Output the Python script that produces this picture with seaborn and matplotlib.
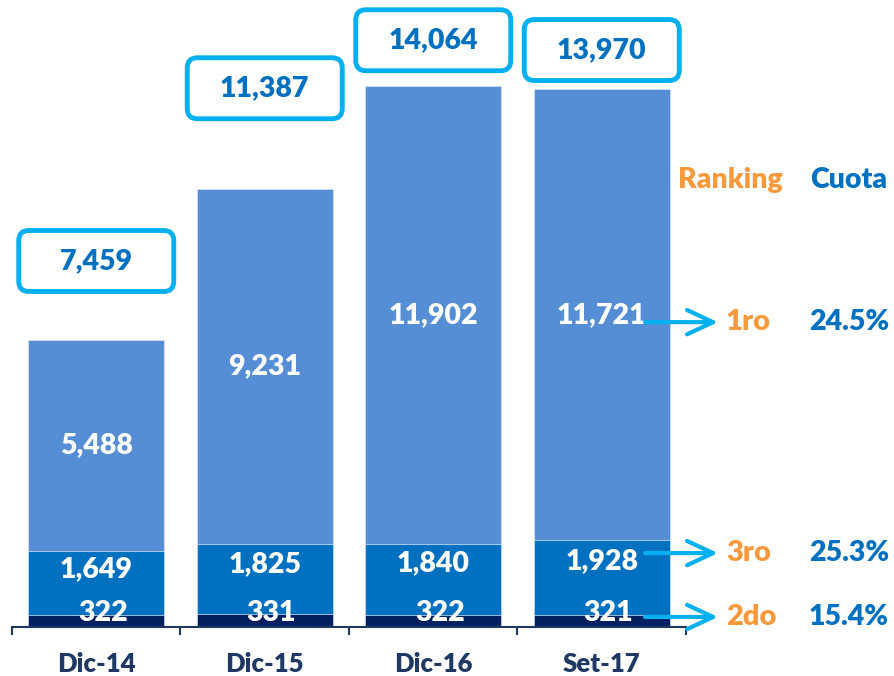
import matplotlib.pyplot as plt
import matplotlib.patches as mpatches
import seaborn as sns
import pandas as pd

periods = ['Dic-14', 'Dic-15', 'Dic-16', 'Set-17']
seg_bottom = [322, 331, 322, 321]
seg_middle = [1649, 1825, 1840, 1928]
seg_top = [5488, 9231, 11902, 11721]
totals = [7459, 11387, 14064, 13970]
ranking = ['1ro', '3ro', '2do']
cuota = ['24.5%', '25.3%', '15.4%']

# how far above each bar the total box sits (data units)
box_lift = [2050, 2610, 1180, 1020]
# heights of the three arrows on the right
arrow_y = [7920, 1920, 260]

LIGHT = '#558ED5'
MID = '#0070C0'
NAVY = '#002060'
CYAN = '#00B0F0'
ORANGE = '#F79A3E'
AXIS = '#1F3864'
W = 'heavy'

sns.set_theme(style='white')
plt.rcParams['font.family'] = ['Lato', 'DejaVu Sans']
plt.rcParams['font.weight'] = 'bold'

df = pd.DataFrame({'periodo': periods, 'bottom': seg_bottom,
                   'middle': seg_middle, 'top': seg_top})
df['cum_mid'] = df['bottom'] + df['middle']
df['cum_top'] = df['cum_mid'] + df['top']

fig = plt.figure(figsize=(8.95, 6.76), dpi=100)
ax = fig.add_axes([12 / 895, 49 / 676, 674 / 895, 627 / 676])

# stacked look: draw cumulative bars from tallest to shortest
for col, color in [('cum_top', LIGHT), ('cum_mid', MID), ('bottom', NAVY)]:
    sns.barplot(data=df, x='periodo', y=col, color=color, saturation=1,
                width=0.807, errorbar=None, edgecolor='#dce6f4',
                linewidth=0.5, ax=ax)

ax.set_xlim(-0.5, 3.5)
ax.set_ylim(0, 16290)

for i, r in df.iterrows():
    ax.text(i, r.cum_mid + r.top / 2, f'{r.top:,}', ha='center', va='center',
            color='white', fontsize=20.5, fontweight=W)
    ax.text(i, r.bottom + r.middle * 0.72, f'{r.middle:,}', ha='center',
            va='center', color='white', fontsize=20.5, fontweight=W)
    ax.text(i + 0.04, r.bottom + 40, f'{r.bottom:,}', ha='center', va='center',
            color='white', fontsize=20.5, fontweight=W)

# rounded boxes with the totals
px_x = ax.bbox.width / 4
px_y = ax.bbox.height / 16290
box_w = 0.92
box_h = 61 / px_y
for i, tot in enumerate(totals):
    yc = tot + box_lift[i]
    box = mpatches.FancyBboxPatch((i - box_w / 2, yc - box_h / 2), box_w, box_h,
                                  boxstyle='round,pad=0,rounding_size=0.06',
                                  mutation_aspect=px_x / px_y, fc='white',
                                  ec=CYAN, lw=3.5, clip_on=False, zorder=4)
    ax.add_patch(box)
    ax.text(i, yc, f'{tot:,}', ha='center', va='center', color=MID,
            fontsize=20.5, fontweight=W, zorder=5)

# ranking / market share on the right
ax.text(3.761, 11610, 'Ranking', ha='center', va='center', color=ORANGE,
        fontsize=20.5, fontweight=W)
ax.text(4.467, 11610, 'Cuota', ha='center', va='center', color=MID,
        fontsize=20.5, fontweight=W)
for y, rk, cu in zip(arrow_y, ranking, cuota):
    ax.annotate('', xy=(3.69, y), xytext=(3.257, y), annotation_clip=False,
                arrowprops=dict(arrowstyle='->,head_length=0.75,head_width=0.35',
                                color=CYAN, lw=3, mutation_scale=25,
                                shrinkA=0, shrinkB=0))
    ax.text(3.737, y, rk, ha='left', va='center', color=ORANGE,
            fontsize=21, fontweight=W)
    ax.text(4.467, y, cu, ha='center', va='center', color=MID,
            fontsize=20.5, fontweight=W)

ax.set_xticks(range(4))
ax.set_xticklabels(periods)
ax.set_xticks([-0.5, 0.5, 1.5, 2.5, 3.5], minor=True)
ax.tick_params(axis='x', which='major', length=0, pad=18, labelsize=18.5,
               labelcolor=AXIS, bottom=True)
ax.tick_params(axis='x', which='minor', length=6, width=1.5, color=AXIS,
               direction='out', bottom=True)
for lbl in ax.get_xticklabels():
    lbl.set_fontweight(W)
ax.set_yticks([])
ax.set_xlabel('')
ax.set_ylabel('')
sns.despine(ax=ax, left=True)
ax.spines['bottom'].set_color(AXIS)
ax.spines['bottom'].set_linewidth(1.5)

fig.savefig('out.png', dpi=100)
